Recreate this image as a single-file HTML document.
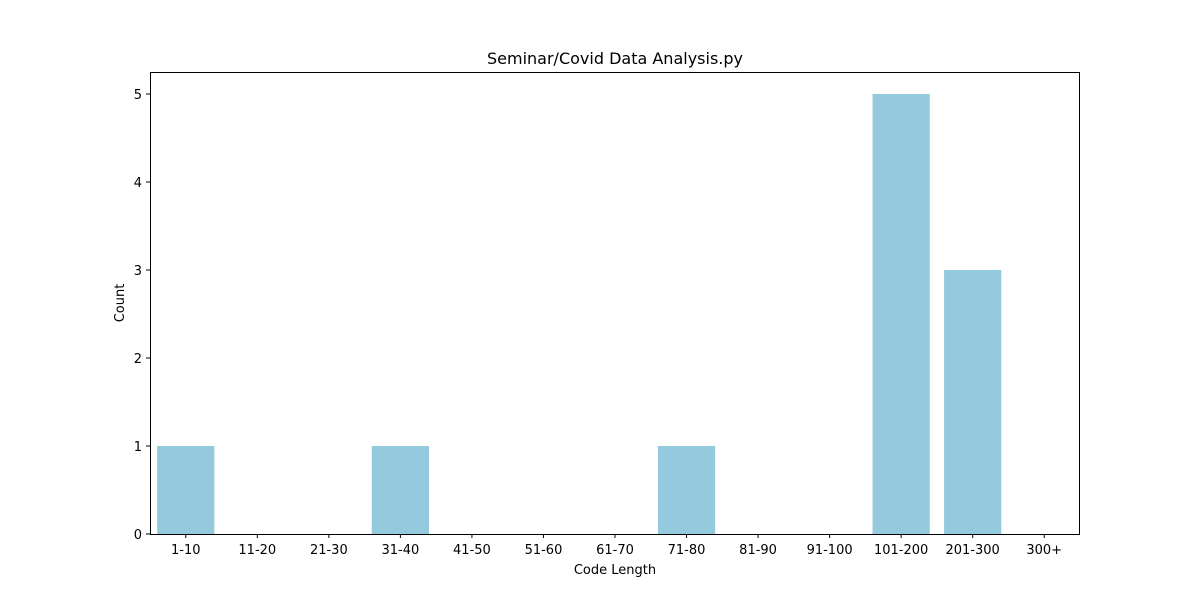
<!DOCTYPE html>
<html><head><meta charset="utf-8">
<style>
body{margin:0;background:#fff;}
svg text{font-family:"DejaVu Sans","Liberation Sans",sans-serif;fill:#000;}
</style></head>
<body>
<svg id="chart" width="1200" height="600">
<text x="615" y="64" text-anchor="middle" font-size="16">Seminar/Covid Data Analysis.py</text>
<g id="bars"></g>
<g id="xt"></g>
<g id="yt"></g>
<rect x="150.5" y="72.5" width="929" height="462" fill="none" stroke="#000" stroke-width="1"/>
<text x="615" y="574" text-anchor="middle" font-size="13">Code Length</text>
<text transform="translate(124,303) rotate(-90)" text-anchor="middle" font-size="13">Count</text>
</svg>
<script>
const categories=["1-10","11-20","21-30","31-40","41-50","51-60","61-70","71-80","81-90","91-100","101-200","201-300","300+"];
const counts=[1,0,0,1,0,0,0,1,0,0,5,3,0];
const yTicks=[0,1,2,3,4,5];
const L=150,R=1080,T=72,B=534,yMax=5.25;
const ns="http://www.w3.org/2000/svg";
const step=(R-L)/categories.length;
const xc=i=>L+step*(i+0.5);
const y=v=>B-(v/yMax)*(B-T);
const mk=(t,a,p)=>{const e=document.createElementNS(ns,t);for(const k in a)e.setAttribute(k,a[k]);p.appendChild(e);return e;};
const bars=document.getElementById('bars'),xt=document.getElementById('xt'),yt=document.getElementById('yt');
categories.forEach((c,i)=>{
  const bw=step*0.8;
  if(counts[i]>0){
    const r=mk('rect',{x:xc(i)-bw/2,y:y(counts[i]),width:bw,height:B-y(counts[i]),fill:'#95c9dd'},bars);
    
    
  }
  const tk=mk('line',{x1:xc(i),x2:xc(i),y1:B,y2:B+4,stroke:'#000'},xt);
  
  
  const t=mk('text',{x:xc(i),y:B+20,'text-anchor':'middle','font-size':13},xt);
  t.textContent=c;
  
  
});
yTicks.forEach(v=>{
  const tk=mk('line',{x1:L-4,x2:L,y1:y(v),y2:y(v),stroke:'#000'},yt);
  
  
  const t=mk('text',{x:L-8,y:y(v)+5,'text-anchor':'end','font-size':13},yt);
  t.textContent=v;
  
  
});
</script>
</body></html>
